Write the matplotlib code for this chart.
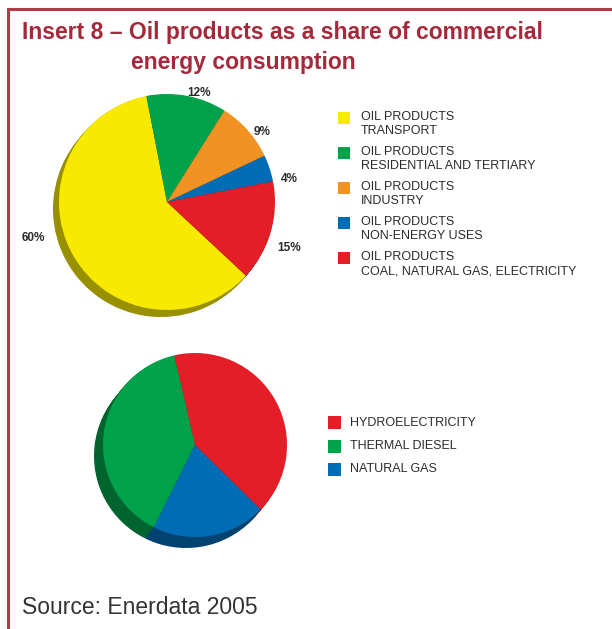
import matplotlib.pyplot as plt
import matplotlib.colors as mcolors
from matplotlib.patches import Rectangle

plt.rcParams['font.family'] = ['Liberation Sans', 'DejaVu Sans']

# oil products by end use (%)
oil_labels = ['OIL PRODUCTS\nTRANSPORT',
              'OIL PRODUCTS\nRESIDENTIAL AND TERTIARY',
              'OIL PRODUCTS\nINDUSTRY',
              'OIL PRODUCTS\nNON-ENERGY USES',
              'OIL PRODUCTS\nCOAL, NATURAL GAS, ELECTRICITY']
oil_share = [60, 12, 9, 4, 15]
oil_colors = ['#f7e900', '#00a14b', '#f29222', '#006cb5', '#e41e26']

# electricity generation mix (%)
mix_labels = ['HYDROELECTRICITY', 'THERMAL DIESEL', 'NATURAL GAS']
mix_share = [41, 39, 20]
mix_colors = ['#e41e26', '#00a14b', '#006cb5']

W, H = 612, 629
dark_red = '#a5283b'
text_col = '#2b2b2b'

# nudges (px, right/down) for the percentage labels around the tilted pie
label_nudge = [(-20, -27), (8, 18), (-2, 16), (-1, 17), (-3, 10)]


def darker(c, f=0.62):
    r, g, b = mcolors.to_rgb(c)
    return (r * f, g * f, b * f)


def pie_3d(ax, values, colors, center, radius, depth, start, ccw, **kw):
    # thickness: stack of darker copies shifted towards the lower left
    shade = [darker(c) for c in colors]
    steps = 10
    for k in range(steps, 0, -1):
        c = (center[0] + depth[0] * k / steps, center[1] + depth[1] * k / steps)
        ax.pie(values, colors=shade, center=c, radius=radius, startangle=start,
               counterclock=ccw, frame=True, wedgeprops=dict(linewidth=0))
    return ax.pie(values, colors=colors, center=center, radius=radius,
                  startangle=start, counterclock=ccw, frame=True,
                  wedgeprops=dict(linewidth=0), **kw)


fig = plt.figure(figsize=(W / 100, H / 100), dpi=100)
ax = fig.add_axes([0, 0, 1, 1])

# top pie with percentage labels
wedges, texts, autotexts = pie_3d(
    ax, oil_share, oil_colors, center=(167, H - 202), radius=108,
    depth=(-6, -7), start=-43, ccw=False,
    autopct='%.0f%%', pctdistance=1.2,
    textprops=dict(fontsize=8.5, fontweight='bold', color=text_col))
for t, (nx, ny) in zip(autotexts, label_nudge):
    x, y = t.get_position()
    t.set_position((x + nx, y - ny))

# bottom pie, no labels
pie_3d(ax, mix_share, mix_colors, center=(195, H - 445), radius=92,
       depth=(-9, -11), start=-44.5, ccw=True)

ax.set_xlim(0, W)
ax.set_ylim(0, H)
ax.set_aspect('equal')
ax.axis('off')

# legend for the top pie
for i, (lab, col) in enumerate(zip(oil_labels, oil_colors)):
    y = H - 117.5 - 35 * i
    ax.add_patch(Rectangle((338, y - 6), 12, 12, color=col, lw=0))
    ax.text(361, y + 6.5, lab, fontsize=9, color=text_col, va='top',
            ha='left', linespacing=1.25)

# legend for the bottom pie
for i, (lab, col) in enumerate(zip(mix_labels, mix_colors)):
    y = H - 422.5 - 23.5 * i
    ax.add_patch(Rectangle((328, y - 6.5), 13, 13, color=col, lw=0))
    ax.text(350, y, lab, fontsize=9, color=text_col, va='center', ha='left')

# frame lines
ax.plot([8, 8, W], [0, H - 9, H - 9], color='#b23a48', lw=2.2,
        solid_capstyle='butt', solid_joinstyle='miter')

# title
ax.text(22, H - 33, 'Insert 8 \u2013 Oil products as a share of commercial',
        fontsize=16.5, fontweight='bold', color=dark_red, va='center',
        ha='left')
ax.text(131, H - 62, 'energy consumption', fontsize=16.5, fontweight='bold',
        color=dark_red, va='center', ha='left')

ax.text(22, H - 608, 'Source: Enerdata 2005', fontsize=16.5, color='#333333',
        va='center', ha='left')

fig.savefig('out.png', dpi=100)
